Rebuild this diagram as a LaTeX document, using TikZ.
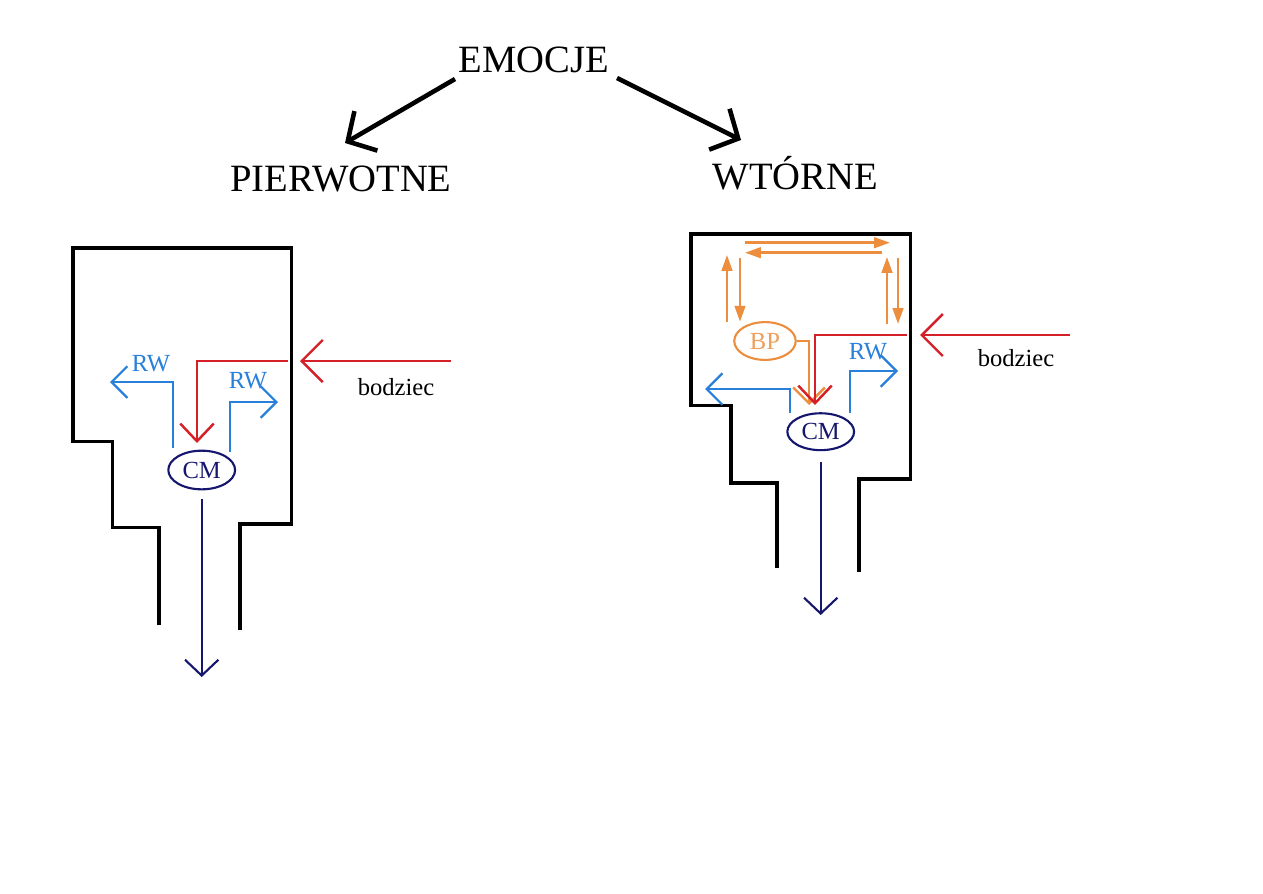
\documentclass[tikz,border=0pt]{standalone}
\usepackage{fontspec}
\setmainfont{Liberation Serif}
\usetikzlibrary{arrows.meta,shapes.geometric}
\definecolor{stimred}{RGB}{214,32,40}
\definecolor{rwblue}{RGB}{40,128,218}
\definecolor{cmnavy}{RGB}{22,22,110}
\definecolor{bporange}{RGB}{236,142,62}

\begin{document}
\begin{tikzpicture}[x=0.02cm,y=-0.02cm,
  hdr/.style={font=\fontsize{22}{26}\selectfont,inner sep=0pt,anchor=base},
  lbl/.style={font=\fontsize{14}{16}\selectfont,inner sep=0pt,anchor=base},
  rwlbl/.style={lbl,text=rwblue},
  wall/.style={line width=2pt,black,line join=miter},
  splitarr/.style={-{Straight Barb[length=12pt,width=26pt]},line width=2.6pt,black},
  stim/.style={-{Straight Barb[length=12pt,width=24pt]},line width=1.4pt,stimred},
  stimin/.style={-{Straight Barb[length=10pt,width=19pt]},line width=1.4pt,stimred},
  rwarr/.style={-{Straight Barb[length=9pt,width=18pt]},line width=1.3pt,rwblue},
  outarr/.style={-{Straight Barb[length=9pt,width=19pt]},line width=1.2pt,cmnavy},
  fbarr/.style={-{Triangle[length=9pt,width=6pt]},line width=1.4pt,bporange},
  bparr/.style={-{Straight Barb[length=9pt,width=18pt]},line width=1.4pt,bporange},
  cmnode/.style={ellipse,draw=cmnavy,line width=1.2pt,text=cmnavy,inner sep=0pt,
    minimum width=38pt,minimum height=22pt,font=\fontsize{14}{16}\selectfont},
  bpnode/.style={cmnode,draw=bporange,text=bporange!85!white,minimum width=35pt,minimum height=21.5pt}]
\fill[white] (0,0) rectangle (1263,893);
\useasboundingbox (0,0) rectangle (1263,893);

% titles
\node[hdr] (emo) at (534,72.7) {EMOCJE};
\node[hdr] (pier) at (341,191.7) {PIERWOTNE};
\node[hdr] (wto) at (795.5,189) {WTÓRNE};
\coordinate (emoL) at (455,79);
\coordinate (emoR) at (617,78);
\coordinate (pierTip) at (345,143);
\coordinate (wtoTip) at (741,140);
\draw[splitarr] (emoL) -- (pierTip);
\draw[splitarr] (emoR) -- (wtoTip);

% pierwotne
\draw[wall] (159,625) -- (159,527.7) -- (112.3,527.7) -- (112.3,441.7) -- (73,441.7)
  -- (73,248) -- (291.7,248) -- (291.7,524) -- (240,524) -- (240,630);
\node[cmnode] (cmL) at (201.7,470) {CM};
\node[rwlbl] (rwL1) at (151,371.7) {RW};
\node[rwlbl] (rwL2) at (248,388.3) {RW};
\node[lbl] (bodL) at (396,395) {bodziec};
\coordinate (inL) at (451,361);
\coordinate (inLtip) at (300,361);
\coordinate (stL) at (288,361);
\coordinate (stLtip) at (197,443);
\coordinate (rwLa) at (173,448);
\coordinate (rwLatip) at (110,382);
\coordinate (rwLb) at (230,452);
\coordinate (rwLbtip) at (278,402);
\coordinate (outL) at (201.7,677);
\draw[stim] (inL) -- (inLtip);
\draw[stimin] (stL) -| (stLtip);
\draw[rwarr] (rwLa) |- (rwLatip);
\draw[rwarr] (rwLb) |- (rwLbtip);
\draw[outarr,shorten <=5pt] (cmL.south) -- (outL);

% wtorne
\draw[wall] (777,568) -- (777,483) -- (731,483) -- (731,405.7) -- (691,405.7)
  -- (691,234) -- (910.7,234) -- (910.7,479) -- (859,479) -- (859,571.6);
\node[cmnode,minimum height=21pt] (cmR) at (820.7,431.7) {CM};
\node[bpnode] (bpR) at (765,341) {BP};
\node[rwlbl] (rwR) at (868,359) {RW};
\node[lbl] (bodR) at (1016,366) {bodziec};
\coordinate (t1) at (745,242.7);
\coordinate (t2) at (890,242.7);
\coordinate (t3) at (882,252.7);
\coordinate (t4) at (745,252.7);
\coordinate (l1) at (727,321.7);
\coordinate (l2) at (727,255);
\coordinate (l3) at (740,258);
\coordinate (l4) at (740,321.7);
\coordinate (r1) at (887,324);
\coordinate (r2) at (887,257);
\coordinate (r3) at (898,258);
\coordinate (r4) at (898,324);
\foreach \a/\b in {t1/t2,t3/t4,l1/l2,l3/l4,r1/r2,r3/r4} \draw[fbarr] (\a) -- (\b);
\coordinate (bpTip) at (809,405);
\draw[bparr] (bpR.east) -| (bpTip);
\coordinate (inR) at (1070,335);
\coordinate (inRtip) at (920,335);
\coordinate (stR) at (907,335);
\coordinate (stRtip) at (815,405);
\coordinate (rwRa) at (790,413);
\coordinate (rwRatip) at (705,389);
\coordinate (rwRb) at (850,413);
\coordinate (rwRbtip) at (898,371);
\coordinate (outR) at (820.7,615);
\draw[stim] (inR) -- (inRtip);
\draw[stimin] (stR) -| (stRtip);
\draw[rwarr] (rwRa) |- (rwRatip);
\draw[rwarr] (rwRb) |- (rwRbtip);
\draw[outarr,shorten <=6pt] (cmR.south) -- (outR);
\end{tikzpicture}
\end{document}
